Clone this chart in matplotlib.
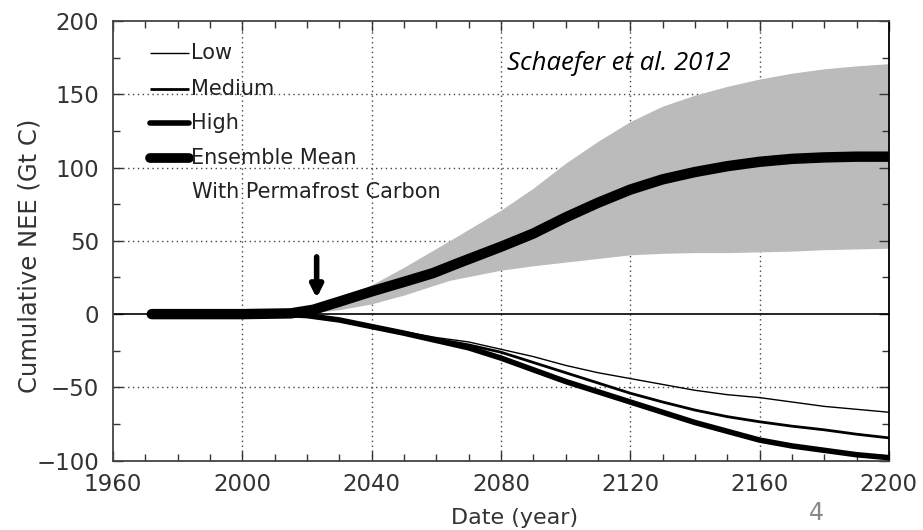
import matplotlib.pyplot as plt
import numpy as np

# ensemble mean with permafrost carbon
mean_years = [1972, 2000, 2015, 2022, 2030, 2040, 2050, 2059, 2067, 2080, 2090, 2100,
              2110, 2120, 2130, 2140, 2150, 2160, 2170, 2180, 2190, 2200]
mean_vals = [0, 0, 0.5, 3, 8.5, 15.5, 22, 28, 35, 46, 55, 66,
             76, 85, 92, 97, 101, 104, 106, 107, 107.5, 107.5]

# spread of the ensemble
band_years = [2015, 2020, 2030, 2040, 2050, 2064, 2080, 2090, 2100, 2110, 2120,
              2130, 2140, 2150, 2160, 2170, 2180, 2190, 2200]
band_upper = [0.5, 2, 9, 20, 32, 50, 71, 86, 103, 118, 131.5,
              142, 149.5, 155.5, 160.5, 164.5, 167.5, 169.5, 171]
band_lower = [0.5, 0.5, 3, 7, 13, 23, 30, 33, 35.5, 38, 40.5,
              41.5, 42, 42, 42.5, 43, 44, 44.5, 45]

# scenarios without permafrost carbon
scen_years = [1972, 2000, 2015, 2020, 2030, 2040, 2050, 2060, 2070, 2080, 2090, 2100,
              2110, 2120, 2130, 2140, 2150, 2160, 2170, 2180, 2190, 2200]
low = [0, 0, -0.5, -1, -4, -8, -12, -16, -19, -24, -29, -35,
       -40, -44, -48, -52, -55, -57, -60, -63, -65, -67]
medium = [0, 0, -0.5, -1, -4, -8, -12.5, -17, -21, -26, -33, -40,
          -47, -54, -60, -65.5, -70, -73.5, -76.5, -79, -82, -84.5]
high = [0, 0, -0.5, -1, -4, -8.5, -13, -18, -23, -30, -38, -46,
        -53, -60, -67, -74, -80, -86, -90, -93, -96, -98]

legend_labels = ['Low', 'Medium', 'High', 'Ensemble Mean']
legend_widths = [1.0, 2.0, 4.0, 7.0]

fig = plt.figure(figsize=(9.23, 5.30), dpi=100)
ax = fig.add_axes([0.1224, 0.131, 0.8406, 0.829])

ax.fill_between(band_years, band_lower, band_upper, color='#bbbbbb', linewidth=0, zorder=1)
ax.axhline(0, color='black', lw=1.2, zorder=2)

ax.plot(scen_years, low, color='black', lw=1.0, zorder=3)
ax.plot(scen_years, medium, color='black', lw=2.0, zorder=3)
ax.plot(scen_years, high, color='black', lw=4.0, zorder=3, solid_capstyle='round')
ax.plot(mean_years, mean_vals, color='black', lw=7.5, zorder=4, solid_capstyle='round')

# arrow marking present day
ax.annotate('', xy=(2023, 9), xytext=(2023, 41),
            arrowprops=dict(arrowstyle='-|>', color='black', lw=4, mutation_scale=18))

ax.set_xlim(1960, 2200)
ax.set_ylim(-100, 200)
ax.set_xticks(range(1960, 2201, 40))
ax.set_yticks(range(-100, 201, 50))
ax.set_xticks(range(1960, 2201, 10), minor=True)
ax.set_yticks(range(-100, 201, 25), minor=True)
ax.tick_params(which='both', direction='in', top=True, right=True, labelsize=16.5,
               labelcolor='#333333', color='#333333')
ax.tick_params(which='major', length=7, width=1)
ax.tick_params(which='minor', length=5, width=1)
ax.tick_params(axis='x', pad=9)
ax.tick_params(axis='y', pad=10)

for y in [-50, 50, 100, 150]:
    ax.axhline(y, color='#444444', lw=1, ls=(0, (1, 2.5)), zorder=0)
for x in [2000, 2040, 2080, 2120, 2160]:
    ax.axvline(x, color='#444444', lw=1, ls=(0, (1, 2.5)), zorder=0)

for s in ax.spines.values():
    s.set_color('#444444')
    s.set_linewidth(1.3)
ax.spines['right'].set_color('black')

ax.set_xlabel('Date (year)', fontsize=16, color='#333333')
ax.set_ylabel('Cumulative NEE (Gt C)', fontsize=17.5, color='#333333')
ax.xaxis.set_label_coords(0.518, -0.107)
ax.yaxis.set_label_coords(-0.092, 0.467)

# legend drawn by hand, line samples butting onto the text
legend_y = [0.927, 0.845, 0.768, 0.688]
for lab, w, y in zip(legend_labels, legend_widths, legend_y):
    ax.plot([0.048, 0.098], [y, y], transform=ax.transAxes, color='black', lw=w,
            solid_capstyle='round' if w > 3 else 'butt', zorder=5)
    ax.text(0.100, y, lab, transform=ax.transAxes, fontsize=15, color='#222222',
            va='center', ha='left', zorder=5)
ax.text(0.102, 0.612, 'With Permafrost Carbon', transform=ax.transAxes, fontsize=15,
        color='#222222', va='center', ha='left', zorder=5)

ax.text(2082, 171, 'Schaefer et al. 2012', fontsize=18.5, style='italic',
        family='Open Sans', va='center', ha='left')

fig.text(0.884, 0.032, '4', fontsize=17, color='#888888', ha='center', va='center')

fig.savefig('out.png', dpi=100)
